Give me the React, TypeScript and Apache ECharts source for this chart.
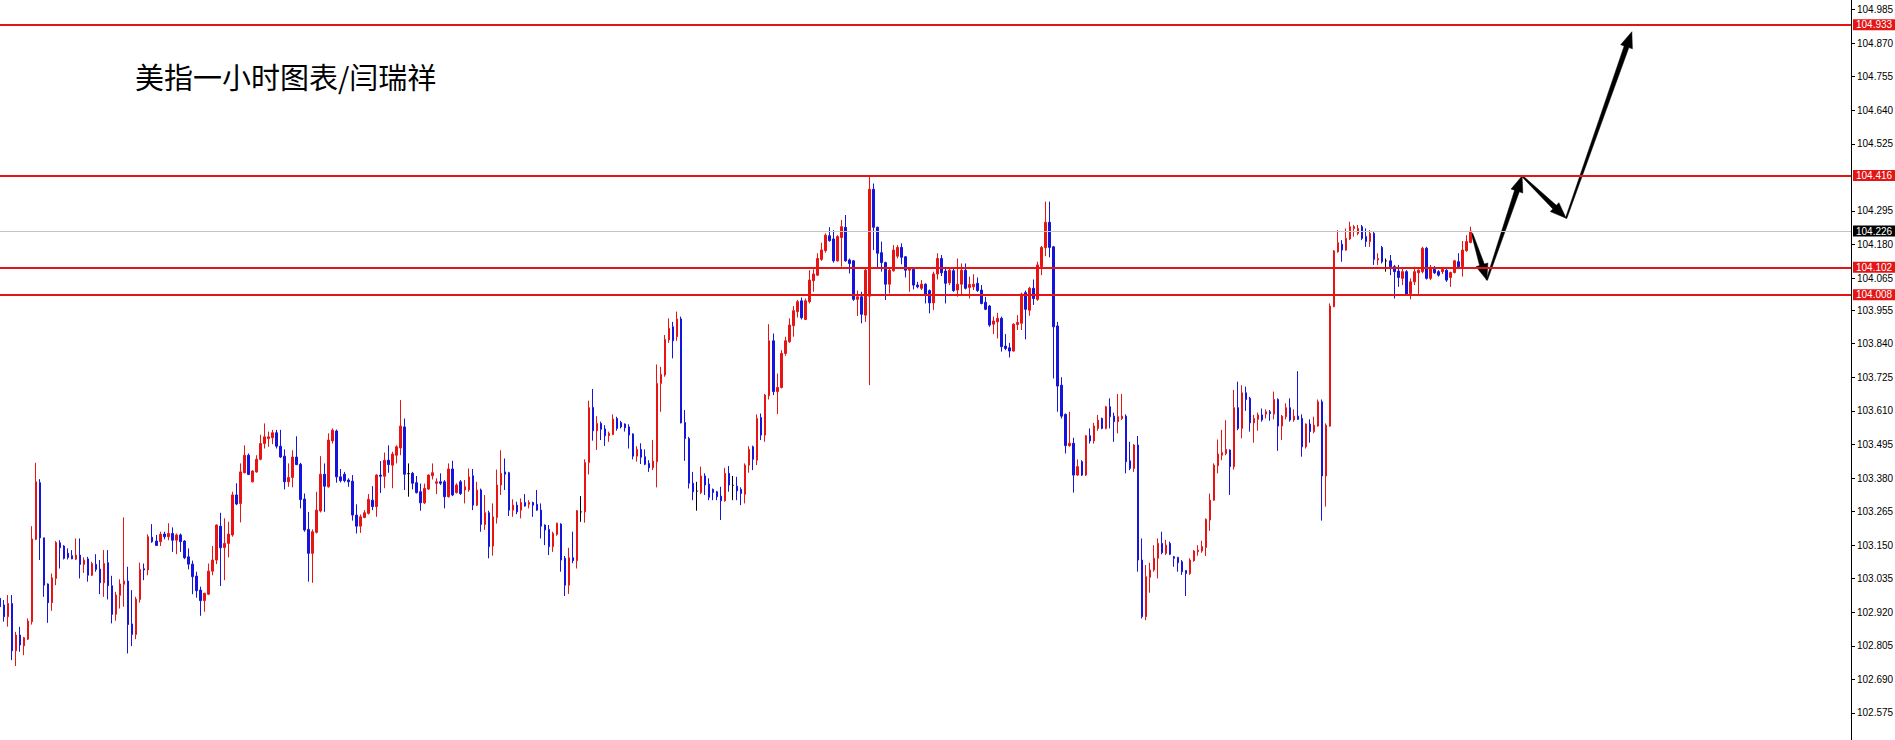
import { useEffect, useRef } from 'react';
import * as echarts from 'echarts';

const chartTitle = '美指一小时图表/闫瑞祥';

const priceTicks = [
  '104.985', '104.870', '104.755', '104.640', '104.525', '104.295', '104.180', '104.065',
  '103.955', '103.840', '103.725', '103.610', '103.495', '103.380', '103.265', '103.150',
  '103.035', '102.920', '102.805', '102.690', '102.575',
];

const levelLines = ['104.933', '104.416', '104.102', '104.008'];
const lastPrice = '104.226';
const yMin = 102.4825;
const yMax = 105.0176;

const opens = [
  // 1-60
  102.968, 102.945, 102.905, 102.950, 102.788, 102.842, 102.805, 102.828, 102.888, 103.170,
  103.364, 103.175, 103.017, 102.953, 103.036, 103.158, 103.147, 103.122, 103.114, 103.102,
  103.116, 103.084, 103.103, 103.047, 103.084, 103.068, 103.021, 103.090, 103.011, 102.913,
  102.978, 103.016, 103.027, 102.880, 102.844, 102.964, 103.069, 103.065, 103.177, 103.164,
  103.162, 103.188, 103.179, 103.190, 103.167, 103.185, 103.164, 103.110, 103.085, 103.044,
  102.996, 102.960, 102.982, 103.061, 103.099, 103.215, 103.142, 103.156, 103.185, 103.322,
  // 61-115
  103.293, 103.398, 103.458, 103.367, 103.401, 103.444, 103.498, 103.515, 103.518, 103.535,
  103.489, 103.455, 103.367, 103.382, 103.452, 103.427, 103.308, 103.204, 103.122, 103.194,
  103.267, 103.393, 103.350, 103.507, 103.541, 103.384, 103.393, 103.373, 103.369, 103.253,
  103.215, 103.245, 103.259, 103.304, 103.282, 103.390, 103.386, 103.441, 103.424, 103.458,
  103.483, 103.555, 103.395, 103.396, 103.364, 103.333, 103.295, 103.342, 103.388, 103.362,
  103.367, 103.367, 103.316, 103.411, 103.330,
  // 116-173
  103.367, 103.339, 103.339, 103.388, 103.287, 103.339, 103.221, 103.261, 103.147, 103.245,
  103.356, 103.401, 103.398, 103.270, 103.287, 103.270, 103.296, 103.290, 103.296, 103.290,
  103.270, 103.219, 103.204, 103.145, 103.187, 103.222, 103.105, 103.013, 103.107, 103.097,
  103.264, 103.264, 103.433, 103.622, 103.542, 103.567, 103.548, 103.525, 103.529, 103.584,
  103.570, 103.565, 103.555, 103.531, 103.455, 103.478, 103.453, 103.430, 103.415, 103.436,
  103.704, 103.733, 103.853, 103.898, 103.864, 103.925, 103.570, 103.515,
  // 174-230
  103.362, 103.335, 103.330, 103.387, 103.359, 103.341, 103.333, 103.318, 103.302, 103.396,
  103.355, 103.352, 103.341, 103.324, 103.424, 103.487, 103.441, 103.587, 103.527, 103.662,
  103.850, 103.676, 103.690, 103.807, 103.847, 103.902, 103.950, 103.987, 103.923, 103.984,
  104.056, 104.075, 104.129, 104.159, 104.210, 104.199, 104.124, 104.204, 104.239, 104.127,
  104.124, 103.992, 104.001, 103.938, 104.003, 104.369, 104.239, 104.152, 104.118, 104.044,
  104.090, 104.140, 104.170, 104.138, 104.092, 104.095, 104.041,
  // 231-288
  104.030, 104.044, 104.022, 103.980, 104.079, 104.132, 104.089, 104.049, 104.090, 104.024,
  104.044, 104.092, 104.033, 104.035, 104.047, 104.024, 103.982, 103.969, 103.907, 103.915,
  103.927, 103.832, 103.826, 103.815, 103.906, 103.910, 104.015, 103.955, 104.030, 103.992,
  104.104, 104.169, 104.256, 104.172, 103.901, 103.698, 103.598, 103.491, 103.499, 103.390,
  103.436, 103.390, 103.525, 103.507, 103.550, 103.584, 103.550, 103.624, 103.592, 103.573,
  103.584, 103.592, 103.439, 103.413, 103.493, 103.099, 102.905, 103.040,
  // 289-345
  103.065, 103.105, 103.156, 103.122, 103.156, 103.110, 103.108, 103.093, 103.063, 103.053,
  103.097, 103.128, 103.130, 103.142, 103.236, 103.304, 103.422, 103.458, 103.464, 103.476,
  103.419, 103.621, 103.550, 103.672, 103.653, 103.569, 103.581, 103.596, 103.599, 103.607,
  103.599, 103.649, 103.558, 103.590, 103.621, 103.579, 103.592, 103.584, 103.487, 103.565,
  103.539, 103.558, 103.641, 103.387, 103.558, 103.967, 104.155, 104.181, 104.161, 104.199,
  104.235, 104.218, 104.241, 104.207, 104.190, 104.218, 104.127,
  // 346-368
  104.170, 104.124, 104.124, 104.104, 104.089, 104.064, 104.087, 104.012, 104.052, 104.083,
  104.087, 104.167, 104.064, 104.095, 104.087, 104.087, 104.092, 104.067, 104.084, 104.121,
  104.104, 104.159, 104.187,
];

const closes = [
  // 1-60
  102.939, 102.905, 102.950, 102.788, 102.842, 102.808, 102.833, 102.890, 103.171, 103.367,
  103.175, 103.013, 102.953, 103.038, 103.159, 103.141, 103.105, 103.108, 103.103, 103.116,
  103.084, 103.099, 103.047, 103.087, 103.067, 103.021, 103.087, 103.011, 102.913, 102.979,
  103.017, 103.027, 102.878, 102.844, 102.965, 103.067, 103.065, 103.179, 103.162, 103.149,
  103.187, 103.179, 103.190, 103.167, 103.185, 103.162, 103.107, 103.085, 103.042, 102.994,
  102.960, 102.985, 103.061, 103.099, 103.219, 103.141, 103.156, 103.188, 103.322, 103.291,
  // 61-115
  103.401, 103.458, 103.392, 103.404, 103.444, 103.498, 103.521, 103.521, 103.535, 103.489,
  103.452, 103.367, 103.382, 103.452, 103.426, 103.306, 103.202, 103.122, 103.196, 103.270,
  103.393, 103.352, 103.510, 103.544, 103.384, 103.371, 103.371, 103.367, 103.253, 103.215,
  103.247, 103.261, 103.307, 103.282, 103.390, 103.386, 103.441, 103.426, 103.462, 103.487,
  103.558, 103.393, 103.395, 103.362, 103.330, 103.295, 103.344, 103.390, 103.398, 103.367,
  103.362, 103.316, 103.411, 103.322, 103.356,
  // 116-173
  103.327, 103.350, 103.384, 103.287, 103.339, 103.221, 103.261, 103.145, 103.247, 103.356,
  103.396, 103.393, 103.270, 103.287, 103.264, 103.296, 103.284, 103.296, 103.287, 103.270,
  103.215, 103.202, 103.145, 103.190, 103.225, 103.099, 103.013, 103.107, 103.097, 103.268,
  103.264, 103.433, 103.621, 103.542, 103.567, 103.547, 103.525, 103.533, 103.582, 103.550,
  103.555, 103.552, 103.527, 103.455, 103.478, 103.451, 103.427, 103.415, 103.438, 103.704,
  103.735, 103.855, 103.893, 103.850, 103.925, 103.569, 103.515, 103.362,
  // 174-230
  103.333, 103.335, 103.387, 103.356, 103.314, 103.330, 103.316, 103.302, 103.396, 103.356,
  103.355, 103.336, 103.327, 103.424, 103.478, 103.444, 103.584, 103.527, 103.664, 103.850,
  103.676, 103.690, 103.807, 103.850, 103.904, 103.953, 103.984, 103.929, 103.987, 104.058,
  104.079, 104.132, 104.161, 104.212, 104.193, 104.124, 104.207, 104.241, 104.124, 104.115,
  103.992, 104.001, 103.941, 104.092, 104.369, 104.239, 104.150, 104.118, 104.044, 104.092,
  104.161, 104.170, 104.136, 104.092, 104.098, 104.041, 104.035,
  // 231-288
  104.044, 104.010, 103.980, 104.079, 104.132, 104.083, 104.047, 104.092, 104.022, 104.044,
  104.092, 104.030, 104.043, 104.044, 104.022, 103.978, 103.958, 103.904, 103.918, 103.927,
  103.830, 103.824, 103.815, 103.907, 103.913, 104.010, 103.958, 104.030, 103.995, 104.110,
  104.170, 104.256, 104.170, 103.898, 103.695, 103.592, 103.491, 103.499, 103.390, 103.419,
  103.390, 103.525, 103.507, 103.558, 103.578, 103.550, 103.624, 103.590, 103.573, 103.590,
  103.592, 103.436, 103.413, 103.493, 103.099, 102.905, 103.042, 103.065,
  // 289-345
  103.105, 103.156, 103.124, 103.150, 103.119, 103.105, 103.090, 103.059, 103.053, 103.099,
  103.130, 103.133, 103.145, 103.238, 103.304, 103.424, 103.462, 103.467, 103.478, 103.419,
  103.621, 103.550, 103.672, 103.649, 103.569, 103.584, 103.596, 103.579, 103.607, 103.601,
  103.649, 103.558, 103.592, 103.621, 103.579, 103.592, 103.581, 103.487, 103.565, 103.539,
  103.561, 103.641, 103.387, 103.561, 103.969, 104.158, 104.186, 104.161, 104.201, 104.241,
  104.241, 104.235, 104.201, 104.190, 104.218, 104.129, 104.132,
  // 346-368
  104.121, 104.124, 104.104, 104.087, 104.067, 104.087, 104.010, 104.052, 104.087, 104.092,
  104.167, 104.064, 104.102, 104.083, 104.075, 104.095, 104.058, 104.084, 104.124, 104.104,
  104.161, 104.190, 104.226,
];

const lows = [
  // 1-60
  102.933, 102.888, 102.871, 102.756, 102.736, 102.785, 102.773, 102.825, 102.878, 103.167,
  103.099, 102.973, 102.884, 102.925, 103.013, 103.070, 103.101, 103.101, 103.102, 103.099,
  103.036, 103.055, 103.025, 103.044, 103.059, 102.982, 102.973, 102.964, 102.882, 102.891,
  102.933, 102.939, 102.779, 102.804, 102.828, 102.953, 103.030, 103.047, 103.158, 103.147,
  103.147, 103.170, 103.167, 103.127, 103.119, 103.127, 103.102, 103.067, 102.982, 102.970,
  102.908, 102.922, 102.979, 103.047, 103.085, 103.010, 103.030, 103.108, 103.179, 103.287,
  // 61-115
  103.228, 103.396, 103.390, 103.365, 103.398, 103.441, 103.481, 103.487, 103.496, 103.481,
  103.449, 103.341, 103.350, 103.348, 103.424, 103.276, 103.196, 103.025, 103.021, 103.190,
  103.262, 103.264, 103.347, 103.498, 103.364, 103.365, 103.365, 103.350, 103.234, 103.190,
  103.192, 103.242, 103.255, 103.270, 103.247, 103.329, 103.345, 103.398, 103.345, 103.430,
  103.458, 103.339, 103.316, 103.341, 103.327, 103.268, 103.291, 103.339, 103.375, 103.325,
  103.356, 103.276, 103.313, 103.318, 103.327,
  // 116-173
  103.322, 103.293, 103.333, 103.270, 103.284, 103.196, 103.202, 103.105, 103.114, 103.224,
  103.322, 103.339, 103.250, 103.247, 103.256, 103.242, 103.282, 103.276, 103.247, 103.268,
  103.173, 103.150, 103.116, 103.127, 103.182, 103.059, 102.976, 102.983, 103.088, 103.070,
  103.230, 103.227, 103.392, 103.508, 103.476, 103.510, 103.490, 103.504, 103.527, 103.542,
  103.550, 103.539, 103.481, 103.444, 103.436, 103.428, 103.424, 103.401, 103.407, 103.348,
  103.607, 103.727, 103.843, 103.790, 103.850, 103.567, 103.439, 103.344,
  // 174-230
  103.304, 103.268, 103.325, 103.322, 103.304, 103.304, 103.304, 103.236, 103.299, 103.333,
  103.304, 103.304, 103.287, 103.293, 103.398, 103.407, 103.424, 103.510, 103.504, 103.649,
  103.664, 103.599, 103.687, 103.799, 103.843, 103.864, 103.930, 103.923, 103.921, 103.978,
  104.018, 104.072, 104.124, 104.152, 104.190, 104.118, 104.121, 104.104, 104.121, 104.081,
  103.987, 103.935, 103.910, 103.915, 103.698, 104.161, 104.102, 104.087, 103.990, 104.012,
  104.087, 104.132, 104.112, 104.067, 104.018, 104.026, 104.030,
  // 231-288
  104.024, 103.978, 103.944, 103.955, 104.060, 104.072, 103.978, 104.041, 104.018, 104.001,
  104.003, 104.026, 103.995, 104.024, 104.018, 103.975, 103.955, 103.898, 103.873, 103.858,
  103.813, 103.818, 103.793, 103.813, 103.887, 103.887, 103.855, 103.936, 103.973, 103.987,
  104.075, 104.140, 104.136, 103.721, 103.607, 103.584, 103.464, 103.487, 103.330, 103.387,
  103.387, 103.387, 103.498, 103.498, 103.542, 103.547, 103.547, 103.550, 103.504, 103.533,
  103.579, 103.396, 103.407, 103.401, 103.059, 102.899, 102.893, 102.987,
  // 289-345
  103.059, 103.036, 103.119, 103.116, 103.116, 103.076, 103.059, 103.048, 102.976, 103.048,
  103.093, 103.114, 103.124, 103.113, 103.199, 103.302, 103.396, 103.441, 103.458, 103.322,
  103.409, 103.544, 103.516, 103.610, 103.539, 103.501, 103.542, 103.573, 103.584, 103.576,
  103.581, 103.473, 103.510, 103.581, 103.573, 103.573, 103.579, 103.453, 103.481, 103.501,
  103.533, 103.556, 103.234, 103.282, 103.556, 103.965, 104.152, 104.121, 104.159, 104.195,
  104.207, 104.212, 104.195, 104.172, 104.172, 104.110, 104.110,
  // 346-368
  104.115, 104.087, 104.075, 103.995, 104.035, 104.041, 104.007, 103.992, 104.041, 104.007,
  104.081, 104.060, 104.058, 104.079, 104.070, 104.079, 104.052, 104.035, 104.081, 104.098,
  104.070, 104.155, 104.184,
];

const highs = [
  // 1-60
  102.973, 102.962, 102.979, 102.979, 102.853, 102.870, 102.836, 102.899, 103.215, 103.432,
  103.376, 103.175, 103.019, 103.053, 103.164, 103.167, 103.150, 103.139, 103.133, 103.173,
  103.173, 103.108, 103.110, 103.093, 103.119, 103.099, 103.133, 103.133, 103.045, 102.990,
  103.033, 103.245, 103.076, 102.996, 102.973, 103.090, 103.087, 103.187, 103.222, 103.185,
  103.196, 103.196, 103.225, 103.211, 103.190, 103.190, 103.167, 103.139, 103.097, 103.059,
  103.008, 102.987, 103.087, 103.147, 103.221, 103.261, 103.242, 103.230, 103.333, 103.362,
  // 61-115
  103.430, 103.492, 103.464, 103.407, 103.458, 103.528, 103.567, 103.539, 103.545, 103.545,
  103.545, 103.478, 103.430, 103.475, 103.523, 103.432, 103.327, 103.264, 103.204, 103.333,
  103.455, 103.430, 103.533, 103.550, 103.546, 103.411, 103.401, 103.379, 103.390, 103.290,
  103.255, 103.270, 103.325, 103.352, 103.393, 103.438, 103.467, 103.492, 103.470, 103.492,
  103.647, 103.584, 103.430, 103.401, 103.387, 103.361, 103.361, 103.393, 103.430, 103.379,
  103.396, 103.373, 103.430, 103.439, 103.362,
  // 116-173
  103.373, 103.373, 103.413, 103.411, 103.367, 103.344, 103.322, 103.268, 103.293, 103.409,
  103.475, 103.447, 103.401, 103.307, 103.299, 103.310, 103.325, 103.304, 103.299, 103.339,
  103.293, 103.221, 103.219, 103.196, 103.227, 103.225, 103.113, 103.141, 103.196, 103.270,
  103.318, 103.444, 103.645, 103.685, 103.592, 103.573, 103.561, 103.539, 103.598, 103.590,
  103.576, 103.567, 103.564, 103.533, 103.489, 103.499, 103.478, 103.441, 103.510, 103.769,
  103.761, 103.870, 103.927, 103.915, 103.950, 103.933, 103.613, 103.521,
  // 174-230
  103.401, 103.367, 103.419, 103.396, 103.379, 103.344, 103.336, 103.350, 103.415, 103.421,
  103.387, 103.384, 103.348, 103.430, 103.489, 103.491, 103.598, 103.601, 103.668, 103.907,
  103.875, 103.738, 103.818, 103.864, 103.927, 103.969, 103.990, 103.998, 103.995, 104.092,
  104.095, 104.150, 104.186, 104.218, 104.239, 104.229, 104.212, 104.264, 104.281, 104.132,
  104.127, 104.022, 104.018, 104.100, 104.414, 104.389, 104.241, 104.190, 104.121, 104.098,
  104.178, 104.178, 104.184, 104.140, 104.102, 104.098, 104.052,
  // 231-288
  104.058, 104.047, 104.026, 104.087, 104.150, 104.144, 104.098, 104.098, 104.098, 104.132,
  104.115, 104.115, 104.070, 104.078, 104.067, 104.041, 104.001, 103.973, 103.933, 103.946,
  103.933, 103.873, 103.843, 103.910, 103.938, 104.015, 104.022, 104.035, 104.060, 104.121,
  104.175, 104.327, 104.327, 104.175, 103.915, 103.725, 103.601, 103.607, 103.518, 103.444,
  103.441, 103.527, 103.550, 103.569, 103.596, 103.587, 103.627, 103.653, 103.604, 103.668,
  103.668, 103.598, 103.504, 103.496, 103.524, 103.173, 103.082, 103.090,
  // 289-345
  103.150, 103.173, 103.196, 103.168, 103.162, 103.113, 103.110, 103.099, 103.065, 103.105,
  103.133, 103.150, 103.165, 103.242, 103.327, 103.430, 103.512, 103.545, 103.578, 103.478,
  103.682, 103.710, 103.698, 103.693, 103.658, 103.596, 103.604, 103.618, 103.615, 103.613,
  103.676, 103.653, 103.596, 103.636, 103.653, 103.615, 103.746, 103.598, 103.567, 103.581,
  103.590, 103.649, 103.649, 103.567, 103.978, 104.161, 104.229, 104.195, 104.235, 104.258,
  104.247, 104.247, 104.247, 104.235, 104.229, 104.224, 104.150,
  // 346-368
  104.175, 104.132, 104.144, 104.110, 104.110, 104.102, 104.092, 104.064, 104.104, 104.095,
  104.172, 104.172, 104.110, 104.106, 104.092, 104.098, 104.095, 104.087, 104.127, 104.150,
  104.192, 104.212, 104.241,
];

// projected path (bar slot, price) drawn as arrows
const arrowSlots = [367.4, 371.1, 379.9, 390.9, 407.3];
const arrowPrices = [104.218, 104.058, 104.415, 104.270, 104.909];

const slotCount = 463;

const RED = '#e41515';
const UP = '#e81414';
const DOWN = '#1414dc';

export default function App() {
  const ref = useRef<HTMLDivElement>(null);

  useEffect(() => {
    if (!ref.current) return;
    const chart = echarts.init(ref.current, undefined, { renderer: 'svg' });

    const slots = Array.from({ length: slotCount }, (_, i) => String(i));
    const candleData = opens.map((o, i) => [o, closes[i], lows[i], highs[i]]);
    const arrowSegs = arrowSlots.slice(1).map((x, i) => [
      arrowSlots[i], arrowPrices[i], x, arrowPrices[i + 1],
    ]);
    const tickValues = priceTicks.map(Number);
    const labelFont = '"Liberation Sans", Arial, sans-serif';

    const makeLabel = (text: string, bg: string) => ({
      show: true,
      position: 'end',
      distance: 2,
      color: '#fff',
      fontSize: 10,
      fontFamily: labelFont,
      lineHeight: 11,
      padding: [0, 4, 0, 3],
      backgroundColor: bg,
      formatter: () => text,
    });

    const option: any = {
      animation: false,
      backgroundColor: '#ffffff',
      grid: {
        left: 0, right: 44, top: 0, bottom: 0,
        containLabel: false, outerBoundsMode: 'none',
      },
      xAxis: [
        { type: 'category', data: slots, boundaryGap: false, show: false },
        { type: 'value', min: 0, max: slotCount - 1, show: false },
      ],
      yAxis: {
        type: 'value',
        position: 'right',
        min: yMin,
        max: yMax,
        axisLine: { show: true, onZero: false, lineStyle: { color: '#000', width: 1 } },
        axisTick: {
          show: true,
          length: 4,
          lineStyle: { color: '#000' },
          customValues: tickValues,
        },
        axisLabel: {
          show: true,
          customValues: tickValues,
          formatter: (v: number) => v.toFixed(3),
          color: '#000',
          fontSize: 10,
          fontFamily: labelFont,
          margin: 6,
        },
        splitLine: { show: false },
        splitArea: { show: false },
      },
      graphic: [
        {
          type: 'text',
          x: 135,
          y: 76,
          silent: true,
          style: {
            text: chartTitle,
            fill: '#000',
            fontSize: 29,
            fontFamily: '"Noto Sans CJK SC", sans-serif',
            align: 'left',
            verticalAlign: 'middle',
          },
        },
      ],
      series: [
        {
          type: 'candlestick',
          xAxisIndex: 0,
          yAxisIndex: 0,
          data: candleData,
          barWidth: 2,
          itemStyle: {
            color: UP,
            color0: DOWN,
            borderColor: UP,
            borderColor0: DOWN,
            borderColorDoji: '#000',
            borderWidth: 1,
          },
          markLine: {
            silent: true,
            symbol: ['none', 'none'],
            animation: false,
            precision: 3,
            data: [
              ...levelLines.map((v) => ({
                yAxis: Number(v),
                lineStyle: { color: RED, width: 2, type: 'solid' },
                label: makeLabel(v, RED),
              })),
              {
                yAxis: Number(lastPrice),
                lineStyle: { color: '#c4c4c4', width: 1, type: 'solid' },
                label: makeLabel(lastPrice, '#000'),
              },
            ],
          },
        },
        {
          type: 'custom',
          coordinateSystem: 'cartesian2d',
          xAxisIndex: 1,
          yAxisIndex: 0,
          silent: true,
          clip: false,
          encode: { x: [0, 2], y: [1, 3] },
          data: arrowSegs,
          renderItem: (_params: any, api: any) => {
            const a = api.coord([api.value(0), api.value(1)]);
            const b = api.coord([api.value(2), api.value(3)]);
            const dx = b[0] - a[0];
            const dy = b[1] - a[1];
            const len = Math.hypot(dx, dy) || 1;
            const ux = dx / len;
            const uy = dy / len;
            const nx = -uy;
            const ny = ux;
            const headLen = 16;
            const headW = 6.2;
            const shaftW = 2.5;
            const startW = 0.7;
            const hx = b[0] - ux * headLen;
            const hy = b[1] - uy * headLen;
            const pts = [
              [a[0] + nx * startW, a[1] + ny * startW],
              [hx + nx * shaftW, hy + ny * shaftW],
              [hx + nx * headW, hy + ny * headW],
              [b[0], b[1]],
              [hx - nx * headW, hy - ny * headW],
              [hx - nx * shaftW, hy - ny * shaftW],
              [a[0] - nx * startW, a[1] - ny * startW],
            ];
            return {
              type: 'polygon',
              shape: { points: pts },
              style: { fill: '#000', stroke: '#000', lineWidth: 0.5 },
            };
          },
        },
      ],
    };

    chart.setOption(option);
    return () => chart.dispose();
  }, []);

  return (
    <div
      ref={ref}
      style={{ position: 'fixed', left: 0, top: 0, width: 1895, height: 740, background: '#fff' }}
    />
  );
}
